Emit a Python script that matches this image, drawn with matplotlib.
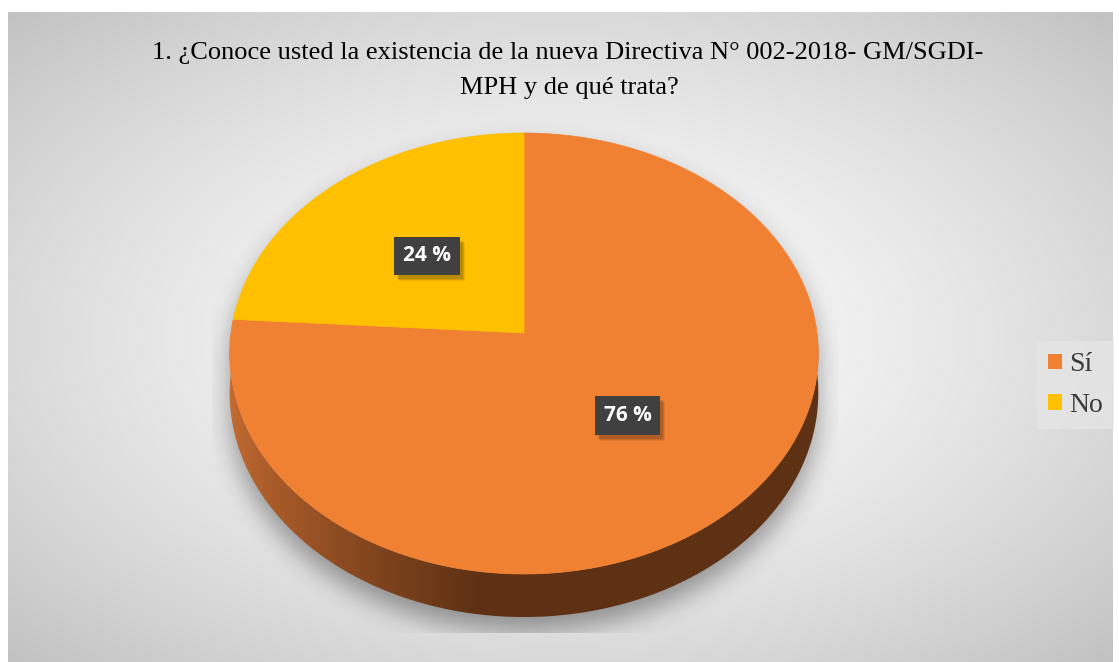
import numpy as np
import matplotlib
matplotlib.use('Agg')
import matplotlib.pyplot as plt
from matplotlib.patches import Polygon, Rectangle, Patch
from matplotlib.path import Path
from matplotlib.colors import to_rgb

# survey answers
labels = ['Sí', 'No']
values = [76, 24]
colors = ['#F08133', '#FFC000']
pct_labels = ['76 %', '24 %']
title_lines = ['1. ¿Conoce usted la existencia de la nueva Directiva N° 002-2018- GM/SGDI-',
               'MPH y de qué trata?']

W, H = 1119, 662
fig = plt.figure(figsize=(W / 100, H / 100), dpi=100)
ax = fig.add_axes([0, 0, 1, 1])
ax.set_xlim(0, W)
ax.set_ylim(H, 0)
ax.axis('off')

# radial grey background of the chart area
yy, xx = np.mgrid[0:H, 0:W] + 0.5
r = np.sqrt(((xx - 560) / 560) ** 2 + ((yy - 330) / 330) ** 2) / 1.41
shade = (252 - 58 * np.clip(r, 0, 1.2) ** 1.5) / 255
bg = np.dstack([shade, shade, shade])
ax.imshow(bg, extent=(8, 1113, H, 12), zorder=0, interpolation='bilinear')

# tilted pie geometry (simple perspective)
cx, cy = 524, 333
A, B = 293, 218.6
k = 0.093
depth = 39


def project(theta, rad=1.0):
    x = rad * np.cos(theta)
    yd = -rad * np.sin(theta)
    w = 1 - k * yd
    return cx + A * x / w, cy + B * yd / w, w


# soft shadow under the pie
full = np.linspace(0, 2 * np.pi, 360)
tx, ty, tw = project(full)
sil_top = Path(np.column_stack([tx, ty + 14]))
sil_bot = Path(np.column_stack([tx, ty + depth / tw + 14]))
pts = np.column_stack([xx.ravel(), yy.ravel()])
mask = (sil_top.contains_points(pts) | sil_bot.contains_points(pts)).reshape(H, W).astype(float)
fy = np.fft.fftfreq(H)[:, None]
fx = np.fft.fftfreq(W)[None, :]
sigma = 12
kernel = np.exp(-2 * (np.pi * sigma) ** 2 * (fx ** 2 + fy ** 2))
blur = np.real(np.fft.ifft2(np.fft.fft2(mask) * kernel))
shadow = np.zeros((H, W, 4))
shadow[..., 3] = np.clip(blur, 0, 1) * 0.36
im = ax.imshow(shadow, extent=(0, W, H, 0), zorder=1)
im.set_clip_path(Rectangle((212, 0), 626, 633, transform=ax.transData))

# side wall of the front half, shaded left to right
th = np.linspace(np.pi, 2 * np.pi, 300)
sx, sy, sw = project(th)
wall = np.vstack([np.column_stack([sx, sy]),
                  np.column_stack([sx[::-1], (sy + depth / sw)[::-1]])])
wall_patch = Polygon(wall, closed=True, facecolor='none', edgecolor='none')
ax.add_patch(wall_patch)
light = np.array(to_rgb('#C46B31'))
dark = np.array(to_rgb('#5E3114'))
gx = np.arange(W) + 0.5
t = np.clip((gx - 231) / 250, 0, 1) ** 0.75
row = light[None, :] * (1 - t[:, None]) + dark[None, :] * t[:, None]
grad = np.repeat(row[None, :, :], 2, axis=0)
gim = ax.imshow(grad, extent=(0, W, 660, 300), zorder=2, aspect='auto',
                interpolation='bilinear')
gim.set_clip_path(wall_patch)

# top faces of the slices, clockwise from 12 o'clock
total = sum(values)
start = 90.0
mids = []
for val, col in zip(values, colors):
    end = start - 360 * val / total
    ang = np.radians(np.linspace(start, end, 200))
    px, py, _ = project(ang)
    poly = np.vstack([[cx, cy], np.column_stack([px, py])])
    ax.add_patch(Polygon(poly, closed=True, facecolor=col, edgecolor=col,
                         linewidth=0.5, zorder=3))
    mids.append(np.radians((start + end) / 2))
    start = end

# percentage labels in dark boxes
boxes = []
for mid, txt in zip(mids, pct_labels):
    lx, ly, _ = project(mid, 0.5)
    boxes.append(ax.text(lx, ly, txt, ha='center', va='center', fontsize=15,
                         fontweight='bold', family='Open Sans', color='white', zorder=5,
                         bbox=dict(boxstyle='square,pad=0.42', fc='#404040', ec='none')))

# soft drop shadow behind each label box
fig.canvas.draw()
inv = ax.transData.inverted()
for lab in boxes:
    ext = lab.get_bbox_patch().get_window_extent()
    (x0, y1), (x1, y0) = inv.transform([[ext.x0, ext.y0], [ext.x1, ext.y1]])
    for dx, dy, a in [(5, 6, 0.07), (4, 5, 0.1), (3, 4, 0.12)]:
        ax.add_patch(Rectangle((x0 + dx, y0 + dy), x1 - x0, y1 - y0,
                               facecolor='black', edgecolor='none', alpha=a, zorder=4))

# title
fig.text(568 / W, 1 - 59 / H, title_lines[0], ha='center', va='baseline',
         fontsize=19, family='Liberation Serif', color='black')
fig.text(569 / W, 1 - 94 / H, title_lines[1], ha='center', va='baseline',
         fontsize=19, family='Liberation Serif', color='black')

# legend
handles = [Patch(facecolor=c, edgecolor='none', label=l) for c, l in zip(colors, labels)]
leg = fig.legend(handles=handles, loc='center left', bbox_to_anchor=(1037 / W, 1 - 385 / H),
                 frameon=True, fancybox=False, facecolor='#e6e6e6', edgecolor='none',
                 framealpha=0.7, handlelength=0.5, handleheight=0.5, handletextpad=0.25,
                 labelspacing=0.55, borderpad=0.4, borderaxespad=0,
                 prop={'family': 'Liberation Serif', 'size': 20})
for t in leg.get_texts():
    t.set_color('#3a3a3a')

fig.savefig('out.png', dpi=100)
